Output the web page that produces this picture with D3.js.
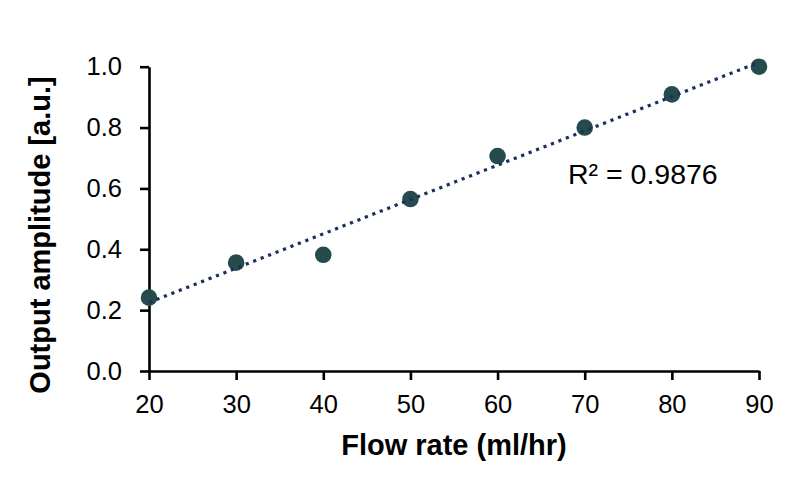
<!DOCTYPE html>
<html>
<head>
<meta charset="utf-8">
<script src="https://cdn.jsdelivr.net/npm/d3@7"></script>
<style>
  html, body { margin: 0; padding: 0; background: #fff; }
  svg { display: block; }
  text { font-family: "Liberation Sans", Arial, sans-serif; fill: #000; }
</style>
</head>
<body>
<svg id="chart" width="789" height="481"></svg>
<script>
// ---- data ----
const flowRates = [20, 30, 40, 50, 60, 70, 80, 90];
const amplitudes = [0.241, 0.356, 0.382, 0.565, 0.7065, 0.800, 0.909, 1.000];
const xTicks = [20, 30, 40, 50, 60, 70, 80, 90];
const yTicks = [0.0, 0.2, 0.4, 0.6, 0.8, 1.0];
const rSquaredLabel = "R² = 0.9876";
const xTitle = "Flow rate (ml/hr)";
const yTitle = "Output amplitude [a.u.]";

// ---- layout ----
const W = 789, H = 481;
const margin = { left: 149, right: 30, top: 66.7, bottom: 110 };
const svg = d3.select("#chart");

const x = d3.scaleLinear().domain([20, 90]).range([margin.left, W - margin.right]);
const y = d3.scaleLinear().domain([0, 1]).range([H - margin.bottom, margin.top]);

// axes
const yAxis = d3.axisLeft(y).tickValues(yTicks).tickFormat(d3.format(".1f"))
  .tickSize(9).tickSizeOuter(0).tickPadding(18);
const xAxis = d3.axisBottom(x).tickValues(xTicks).tickFormat(d3.format("d"))
  .tickSize(9).tickSizeOuter(0).tickPadding(15);

const gy = svg.append("g").attr("transform", `translate(${margin.left},0)`).call(yAxis);
const gx = svg.append("g").attr("transform", `translate(0,${H - margin.bottom})`).call(xAxis);

[gx, gy].forEach(g => {
  g.selectAll("path.domain").attr("stroke", "#000").attr("stroke-width", 2.6);
  g.selectAll(".tick line").attr("stroke", "#000").attr("stroke-width", 2.6);
  g.selectAll(".tick text").attr("font-size", 25.5)
    .attr("font-family", '"Liberation Sans", Arial, sans-serif').attr("fill", "#000");
});

// points
svg.append("g").selectAll("circle")
  .data(flowRates.map((f, i) => ({ f, a: amplitudes[i] })))
  .join("circle")
  .attr("cx", d => x(d.f))
  .attr("cy", d => y(d.a))
  .attr("r", 8.3)
  .attr("fill", "#254b4c");

// linear trendline (least squares from data)
const n = flowRates.length;
const mx = d3.mean(flowRates), my = d3.mean(amplitudes);
let sxy = 0, sxx = 0;
for (let i = 0; i < n; i++) {
  sxy += (flowRates[i] - mx) * (amplitudes[i] - my);
  sxx += (flowRates[i] - mx) ** 2;
}
const slope = sxy / sxx, intercept = my - slope * mx;
const dom = x.domain();
svg.append("path")
  .datum(dom.map(v => [v, intercept + slope * v]))
  .attr("d", d3.line().x(d => x(d[0])).y(d => y(d[1])))
  .attr("fill", "none")
  .attr("stroke", "#1b2f60")
  .attr("stroke-width", 3.2)
  .attr("stroke-dasharray", "3.2 4.8");

// R² label
svg.append("text")
  .attr("x", 568).attr("y", 183.5)
  .attr("font-size", 28.5)
  .text(rSquaredLabel);

// titles
svg.append("text")
  .attr("x", (x.range()[0] + x.range()[1]) / 2)
  .attr("y", 455)
  .attr("text-anchor", "middle")
  .attr("font-size", 29)
  .attr("font-weight", "bold")
  .text(xTitle);

svg.append("text")
  .attr("transform", "translate(50,235) rotate(-90)")
  .attr("text-anchor", "middle")
  .attr("font-size", 29)
  .attr("font-weight", "bold")
  .text(yTitle);
</script>
</body>
</html>
